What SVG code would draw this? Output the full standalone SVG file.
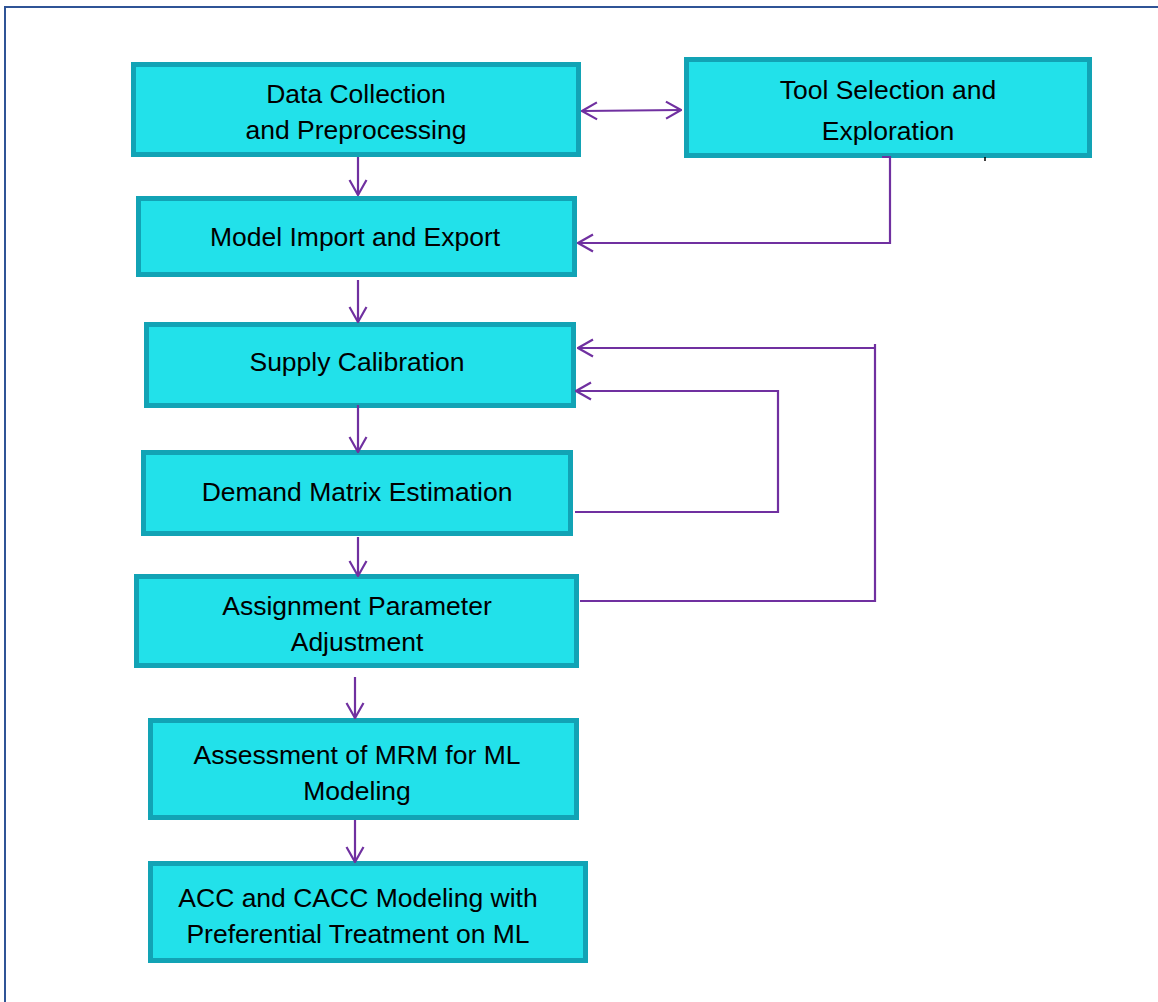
<svg xmlns="http://www.w3.org/2000/svg" width="1158" height="1002" viewBox="0 0 1158 1002">
<defs>
<style>
.box{fill:#22e1ea;stroke:#12a3b5;stroke-width:5}
.lbl{font-family:"Liberation Sans",Arial,sans-serif;font-size:26.5px;fill:#000;text-anchor:middle}
.con{fill:none;stroke:#7030a0;stroke-width:2.2}
</style>
<marker id="ah" viewBox="0 0 18 20" refX="17" refY="10" markerWidth="18" markerHeight="20" markerUnits="userSpaceOnUse" orient="auto-start-reverse">
<path d="M2,1.5 L17,10 L2,18.5" fill="none" stroke="#7030a0" stroke-width="2.2"/>
</marker>
</defs>
<rect x="0" y="0" width="1158" height="1002" fill="#fff"/>
<path d="M5,1002 V7 H1158" fill="none" stroke="#2f5496" stroke-width="2"/>

<g id="n1"><rect class="box" x="133.5" y="64.5" width="445" height="90"/><text class="lbl" x="356" y="103">Data Collection</text><text class="lbl" x="356" y="139">and Preprocessing</text></g>
<g id="n2"><rect class="box" x="686.5" y="59.5" width="403" height="96"/><text class="lbl" x="888" y="99">Tool Selection and</text><text class="lbl" x="888" y="140">Exploration</text></g>
<g id="n3"><rect class="box" x="138.5" y="198.5" width="436" height="76"/><text class="lbl" x="355" y="246">Model Import and Export</text></g>
<g id="n4"><rect class="box" x="146.5" y="324.5" width="427" height="81"/><text class="lbl" x="357" y="371">Supply Calibration</text></g>
<g id="n5"><rect class="box" x="143.5" y="452.5" width="427" height="81"/><text class="lbl" x="357" y="501">Demand Matrix Estimation</text></g>
<g id="n6"><rect class="box" x="136.5" y="576.5" width="440" height="89"/><text class="lbl" x="357" y="615">Assignment Parameter</text><text class="lbl" x="357" y="651">Adjustment</text></g>
<g id="n7"><rect class="box" x="150.5" y="720.5" width="426" height="97"/><text class="lbl" x="357" y="764">Assessment of MRM for ML</text><text class="lbl" x="357" y="800">Modeling</text></g>
<g id="n8"><rect class="box" x="150.5" y="863.5" width="435" height="97"/><text class="lbl" x="358" y="907">ACC and CACC Modeling with</text><text class="lbl" x="358" y="943">Preferential Treatment on ML</text></g>

<g id="connectors">
<path class="con" d="M582,111 L681,110" marker-start="url(#ah)" marker-end="url(#ah)"/>
<path class="con" d="M358,157 V195" marker-end="url(#ah)"/>
<path class="con" d="M882,157 H890 V243 H578" marker-end="url(#ah)"/>
<path class="con" d="M358,280 V322" marker-end="url(#ah)"/>
<path class="con" d="M358,405 V452" marker-end="url(#ah)"/>
<path class="con" d="M358,537 V576" marker-end="url(#ah)"/>
<path class="con" d="M355,677 V718" marker-end="url(#ah)"/>
<path class="con" d="M355,820 V862" marker-end="url(#ah)"/>
<path class="con" d="M575,512 H778 V391 H576" marker-end="url(#ah)"/>
<path class="con" d="M580,601 H875 V344 M875,348 H578" marker-end="url(#ah)"/>
<path d="M985,157 V161" stroke="#000" stroke-width="1.5"/>
</g>
</svg>
